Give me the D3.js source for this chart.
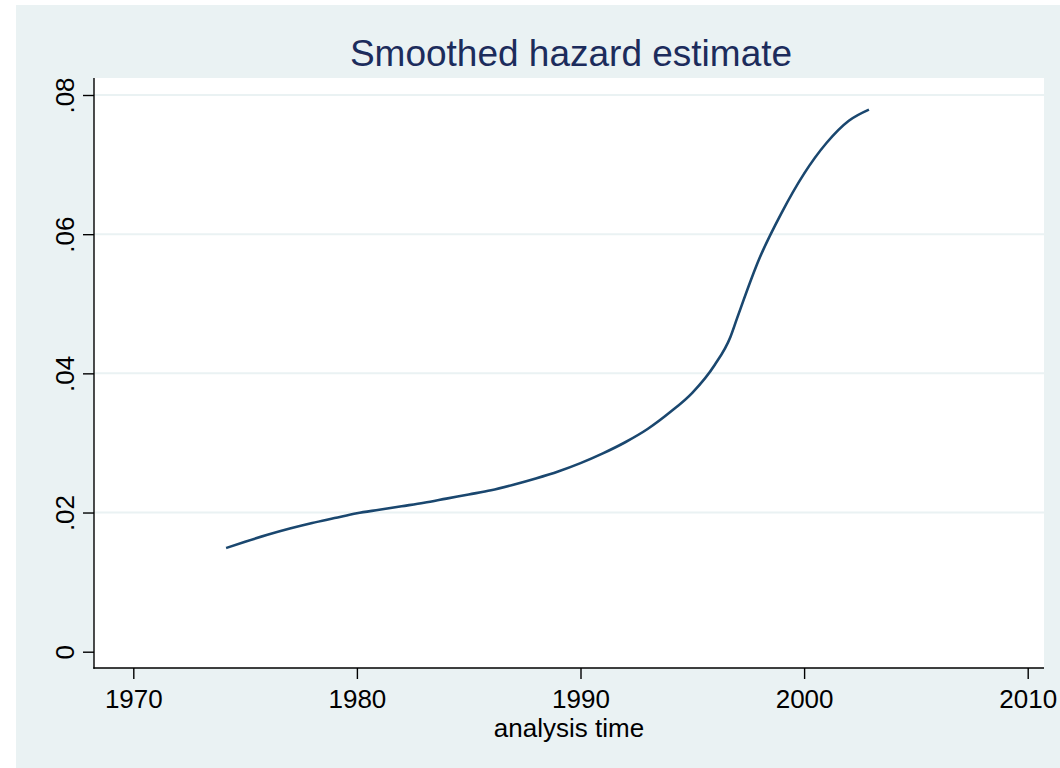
<!DOCTYPE html>
<html>
<head>
<meta charset="utf-8">
<script src="https://cdn.jsdelivr.net/npm/d3@7"></script>
<style>
html,body{margin:0;padding:0;background:#ffffff;}
svg{display:block;font-family:"Liberation Sans",Arial,sans-serif;}
</style>
</head>
<body>
<svg id="chart" width="1060" height="768"></svg>
<script>
const title = "Smoothed hazard estimate";
const xLabel = "analysis time";
const xTicks = [1970, 1980, 1990, 2000, 2010];
const yTicks = [0, 0.02, 0.04, 0.06, 0.08];
const yTickLabels = ["0", ".02", ".04", ".06", ".08"];
const years = [1974.15, 1975, 1976, 1977, 1978, 1979, 1980, 1981, 1982, 1983, 1984, 1985, 1986, 1987, 1988, 1989, 1990, 1991, 1992, 1993, 1994, 1995, 1996, 1996.7, 1997, 1998, 1999, 2000, 2001, 2002, 2002.9];
const hazard = [0.0149, 0.0158, 0.0168, 0.0177, 0.0185, 0.0192, 0.0199, 0.0204, 0.0209, 0.0214, 0.0220, 0.0226, 0.0232, 0.0240, 0.0249, 0.0259, 0.0271, 0.0285, 0.0301, 0.0320, 0.0344, 0.0372, 0.0412, 0.0452, 0.0479, 0.0565, 0.0631, 0.0687, 0.0731, 0.0763, 0.0779];

const svg = d3.select("#chart");
const W = 1060, H = 768;
const plot = {left: 94, right: 1044, top: 78, bottom: 668};

// outer background
svg.append("rect").attr("x", 16).attr("y", 5).attr("width", W - 16).attr("height", H - 5).attr("fill", "#eaf2f3");
// plot region
svg.append("rect").attr("x", plot.left).attr("y", plot.top)
  .attr("width", plot.right - plot.left).attr("height", plot.bottom - plot.top).attr("fill", "#ffffff");

const x = d3.scaleLinear().domain([1970, 2010]).range([133.3, 1027.7]);
const y = d3.scaleLinear().domain([0, 0.08]).range([651.7, 95]);

// gridlines
svg.append("g").selectAll("line").data(yTicks.slice(1)).join("line")
  .attr("x1", plot.left).attr("x2", plot.right)
  .attr("y1", d => y(d)).attr("y2", d => y(d))
  .attr("stroke", "#eaf2f3").attr("stroke-width", 2);

// line
const data = years.map((yr, i) => ({yr, v: hazard[i]}));
svg.append("path").datum(data)
  .attr("fill", "none").attr("stroke", "#1a476f").attr("stroke-width", 2.6)
  .attr("stroke-linejoin", "round").attr("stroke-linecap", "butt")
  .attr("d", d3.line().x(d => x(d.yr)).y(d => y(d.v)).curve(d3.curveMonotoneX));

// y axis
const yAxis = svg.append("g").attr("transform", `translate(${plot.left},0)`)
  .call(d3.axisLeft(y).tickValues(yTicks).tickFormat((d, i) => yTickLabels[i]).tickSize(11).tickPadding(10));
yAxis.select(".domain").remove();
yAxis.selectAll(".tick line").attr("stroke", "#000").attr("stroke-width", 1.4);
yAxis.selectAll(".tick text")
  .attr("transform", "rotate(-90)")
  .attr("x", 0).attr("y", -20).attr("dy", 0)
  .attr("text-anchor", "middle")
  .attr("font-size", 26).attr("fill", "#000");

// x axis
const xAxis = svg.append("g").attr("transform", `translate(0,${plot.bottom})`)
  .call(d3.axisBottom(x).tickValues(xTicks).tickFormat(d3.format("d")).tickSize(11).tickPadding(11));
xAxis.select(".domain").remove();
xAxis.selectAll(".tick line").attr("stroke", "#000").attr("stroke-width", 1.4);
xAxis.selectAll(".tick text").attr("font-size", 26).attr("fill", "#000");

// axis lines
svg.append("line").attr("x1", plot.left).attr("x2", plot.left).attr("y1", plot.top).attr("y2", plot.bottom + 0.7)
  .attr("stroke", "#000").attr("stroke-width", 1.4);
svg.append("line").attr("x1", plot.left - 0.7).attr("x2", plot.right).attr("y1", plot.bottom).attr("y2", plot.bottom)
  .attr("stroke", "#000").attr("stroke-width", 1.4);

// labels
svg.append("text").attr("x", (plot.left + plot.right) / 2).attr("y", 737)
  .attr("text-anchor", "middle").attr("font-size", 26).attr("fill", "#000").text(xLabel);
svg.append("text").attr("x", 571).attr("y", 66)
  .attr("text-anchor", "middle").attr("font-size", 37).attr("fill", "#1c2c5c").text(title);
</script>
</body>
</html>
